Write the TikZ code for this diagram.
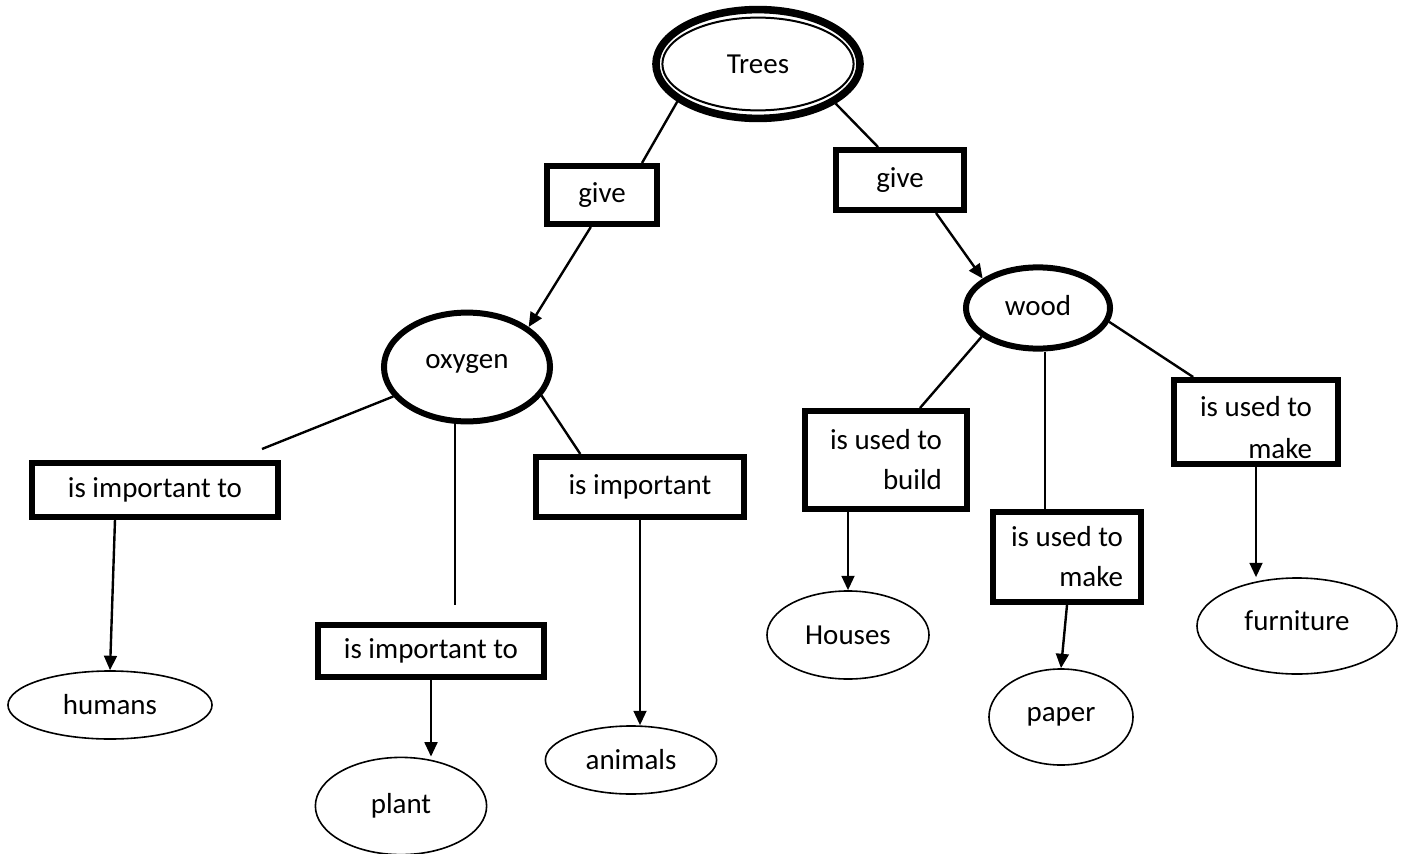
\documentclass[tikz,border=0pt]{standalone}
\usepackage{fontspec}
\setmainfont{Carlito}
\usetikzlibrary{shapes.geometric,arrows.meta,calc}

\tikzset{
	linkbox/.style={draw, rectangle, line width=0.15cm, inner sep=0pt, align=right},
	thickoval/.style={draw, ellipse, line width=0.15cm, inner sep=0pt},
	thinoval/.style={draw, ellipse, line width=0.04cm, inner sep=0pt},
	linkline/.style={line width=0.06cm},
	linkarrow/.style={line width=0.06cm, -{Triangle[length=0.36cm,width=0.32cm]}}
}

\begin{document}
\begin{tikzpicture}[x=0.025cm,y=-0.025cm,font=\fontsize{20.6pt}{28.4pt}\selectfont]
			      % Frame
			      \useasboundingbox (0,0) rectangle (1401,854);
			      % Main concepts
			      \node[thickoval, line width=0.19cm, minimum width=5.1cm, minimum height=2.72cm] (trees) at (758,64) {Trees};
			      \draw[line width=0.05cm] (trees.center) ellipse [x radius=2.39cm, y radius=1.16cm];
			      \node[thickoval, minimum width=4.15cm, minimum height=2.72cm] (oxygen) at (467,367) {\raisebox{0.3cm}{oxygen}};
			      \node[thickoval, minimum width=3.6cm, minimum height=2.03cm] (wood) at (1038,308) {\raisebox{0.15cm}{wood}};
			      % Linking boxes
			      \node[linkbox, minimum width=2.75cm, minimum height=1.45cm] (giveL) at (602,195) {give};
			      \node[linkbox, minimum width=3.2cm, minimum height=1.5cm] (giveR) at (900,180) {give};
			      \node[linkbox, minimum width=6.15cm, minimum height=1.35cm] (impL) at (155,490) {is important to};
			      \node[linkbox, minimum width=5.65cm, minimum height=1.3cm] (impM) at (431,651) {is important to};
			      \node[linkbox, minimum width=5.18cm, minimum height=1.5cm] (impR) at (640,487) {is important};
			      \node[linkbox, minimum width=4.03cm, minimum height=2.45cm] (buildB) at (886,460) {is used to\\build};
			      \node[linkbox, minimum width=3.7cm, minimum height=2.25cm] (makeM) at (1067,557) {is used to\\make};
			      \node[linkbox, minimum width=4.1cm, minimum height=2.1cm] (makeR) at (1256,422) {\raisebox{-0.9cm}[0pt][0pt]{\shortstack[r]{is used to\\[0.42cm]make}}};
			      % Leaf concepts
			      \node[thinoval, minimum width=5.1cm, minimum height=1.7cm] (humans) at (110,705) {humans};
			      \node[thinoval, minimum width=4.28cm, minimum height=2.43cm] (plant) at (401,806) {plant};
			      \node[thinoval, minimum width=4.28cm, minimum height=1.7cm] (animals) at (631,760) {animals};
			      \node[thinoval, minimum width=4.05cm, minimum height=2.2cm] (houses) at (848,635) {Houses};
			      \node[thinoval, minimum width=3.6cm, minimum height=2.4cm] (paper) at (1061,717) {paper};
			      \node[thinoval, minimum width=5.0cm, minimum height=2.4cm] (furniture) at (1297,626) {\raisebox{0.25cm}{furniture}};
			      % Free ends
			      \coordinate (oxL) at (262,449);
			      \coordinate (oxM) at (455,605);
			      % Connectors
			      \draw[linkline] (trees.205) -- ([xshift=1cm]giveL.north);
			      \draw[linkline] (trees.333) -- ([xshift=-0.55cm]giveR.north);
			      \draw[linkarrow] ([xshift=-0.28cm]giveL.south) -- (oxygen.33);
			      \draw[linkarrow] ([xshift=0.9cm]giveR.south) -- (wood.152);
			      \draw[linkline] (oxygen) -- (oxL);
			      \draw[linkline] (oxM |- oxygen.south) -- (oxM);
			      \draw[linkline] (oxygen.339) -- ($(impR.north west)!0.22!(impR.north east)$);
			      \draw[linkarrow] ([xshift=-1cm]impL.south) -- (humans.north);
			      \draw[linkarrow] (impM.south) -- (impM.south |- plant.north);
			      \draw[linkarrow] (impR.south) -- (impR.south |- animals.north);
			      \draw[linkline] (wood.207) -- ([xshift=0.85cm]buildB.north);
			      \draw[linkline] ([xshift=0.18cm]wood.south) -- ([xshift=0.18cm]wood.south |- makeM.north);
			      \draw[linkline] (wood.349) -- ($(makeR.north west)!0.13!(makeR.north east)$);
			      \draw[linkarrow] (houses.north |- buildB.south) -- (houses.north);
			      \draw[linkarrow] (makeM.south) -- (paper.north);
			      \draw[linkarrow] (makeR.south) -- (makeR.south |- furniture.north);
		      \end{tikzpicture}
\end{document}
